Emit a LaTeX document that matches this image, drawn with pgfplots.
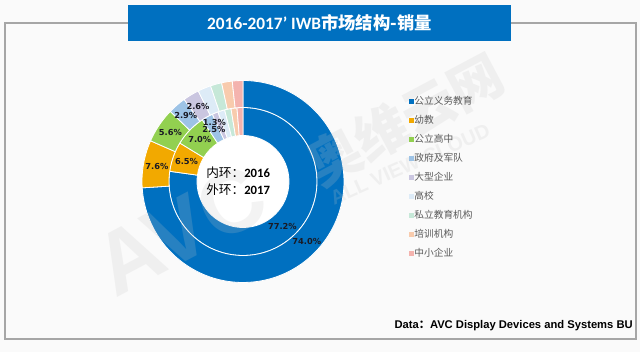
\documentclass[border=0pt]{standalone}
\usepackage{pgfplots}
\pgfplotsset{compat=1.18}
\usepackage{pgfplotstable}
\usepackage{fontspec}
\setmainfont{Noto Sans CJK SC}
\newfontfamily\cjk{Noto Sans CJK SC}
\newfontfamily\carl{Carlito}
\newfontfamily\dvs{DejaVu Sans}
\newfontfamily\lib{Liberation Sans}

\definecolor{bgc}{HTML}{FAFAFA}
\definecolor{framec}{HTML}{A6A6A6}
\definecolor{titlec}{HTML}{0070C0}
\definecolor{cA}{HTML}{0070C0}
\definecolor{cB}{HTML}{F2A900}
\definecolor{cC}{HTML}{92D050}
\definecolor{cD}{HTML}{9DC3E6}
\definecolor{cE}{HTML}{CAC6E0}
\definecolor{cF}{HTML}{DDEBF7}
\definecolor{cG}{HTML}{C6E8D8}
\definecolor{cH}{HTML}{F8CBAD}
\definecolor{cI}{HTML}{F4B3AE}
\definecolor{labelc}{HTML}{1A1A24}
\definecolor{legtext}{HTML}{595959}
\definecolor{wmc}{HTML}{C5C5C5}

% name, 2016 share (inner ring), 2017 share (outer ring), colour
\pgfplotstableread{
name v16 v17 col
公立义务教育 77.2 74.0 cA
幼教 6.5 7.6 cB
公立高中 7.0 5.6 cC
政府及军队 2.5 2.9 cD
大型企业 1.3 2.6 cE
高校 1.5 2.1 cF
私立教育机构 1.4 1.8 cG
培训机构 1.3 1.7 cH
中小企业 1.3 1.7 cI
}\donut

\begin{document}
\begin{tikzpicture}
\begin{axis}[
  hide axis, scale only axis, width=480pt, height=264pt,
  xmin=0, xmax=640, ymin=0, ymax=352, clip=false,
  legend image code/.code={\fill[#1, draw=none] (0pt,-1.9pt) rectangle (3.8pt,1.9pt);},
  legend style={at={(0.639,0.727)}, anchor=north west, draw=none, fill=none,
    inner sep=0pt, row sep=6.75pt,
    font=\fontsize{7.3}{8}\selectfont\color{legtext},
    nodes={text height=6pt, text depth=1.5pt, inner sep=0pt, outer sep=0pt},
    /tikz/every even column/.append style={column sep=3pt}},
  legend cell align=left,
]
\pgfplotsextra{%
  % background, frame, title
  \fill[bgc] (axis cs:0,0) rectangle (axis cs:640,352);
  \draw[framec, line width=1.1pt] (axis cs:5,329) rectangle (axis cs:636,13);
  \fill[titlec] (axis cs:128,347) rectangle (axis cs:511,311);
  \node[text=white, font=\fontsize{13}{14}\selectfont\bfseries] at (axis cs:319.5,329)
    {{\carl 2016-2017’ IWB}{\cjk 市场结构-销量}};
  % donut sectors
  \gdef\cumA{0}\gdef\cumB{0}%
  \foreach \i in {0,...,8}{%
    \pgfplotstablegetelem{\i}{v16}\of\donut \let\va\pgfplotsretval
    \pgfplotstablegetelem{\i}{v17}\of\donut \let\vb\pgfplotsretval
    \pgfplotstablegetelem{\i}{col}\of\donut \let\cc\pgfplotsretval
    \pgfmathsetmacro\aS{90-3.6*\cumA}%
    \pgfmathsetmacro\aE{90-3.6*(\cumA+\va)}%
    \pgfmathsetmacro\bS{90-3.6*\cumB}%
    \pgfmathsetmacro\bE{90-3.6*(\cumB+\vb)}%
    \fill[fill=\cc, draw=white, line width=0.6pt, shift={(axis cs:243,170.5)}]
      (\aS:34.5pt) arc[start angle=\aS, end angle=\aE, radius=34.5pt]
      -- (\aE:55.5pt) arc[start angle=\aE, end angle=\aS, radius=55.5pt] -- cycle;
    \fill[fill=\cc, draw=white, line width=0.6pt, shift={(axis cs:243,170.5)}]
      (\bS:55.5pt) arc[start angle=\bS, end angle=\bE, radius=55.5pt]
      -- (\bE:75.75pt) arc[start angle=\bE, end angle=\bS, radius=75.75pt] -- cycle;
    \pgfmathsetmacro\tmpA{\cumA+\va}\xdef\cumA{\tmpA}%
    \pgfmathsetmacro\tmpB{\cumB+\vb}\xdef\cumB{\tmpB}%
  }%
  \fill[white] (axis cs:243,170.5) circle[radius=34.2pt];
  % watermark
  \begin{scope}[opacity=0.2]
    \node[text=wmc, rotate=28, font=\lib\bfseries\fontsize{66}{66}\selectfont] at (axis cs:180,122) {AVC};
    \node[text=wmc, rotate=28, font=\cjk\bfseries\fontsize{40}{40}\selectfont] at (axis cs:405,232) {奥维云网};
    \node[text=wmc, rotate=24, font=\lib\bfseries\fontsize{15}{15}\selectfont] at (axis cs:410,188) {ALL VIEW CLOUD};
  \end{scope}
  % labels
  \gdef\cumA{0}\gdef\cumB{0}%
  \foreach \i in {0,...,4}{%
    \pgfplotstablegetelem{\i}{v16}\of\donut \let\va\pgfplotsretval
    \pgfplotstablegetelem{\i}{v17}\of\donut \let\vb\pgfplotsretval
    \pgfmathsetmacro\aM{90-3.6*(\cumA+\va/2)}%
    \pgfmathsetmacro\bM{90-3.6*(\cumB+\vb/2)}%
    \ifnum\i=4 \def\xs{-4.5pt}\def\ys{2.5pt}\else\def\xs{0pt}\def\ys{0pt}\fi
    \node[text=labelc, font=\dvs\bfseries\fontsize{6.2}{7}\selectfont, inner sep=0pt]
      at ([shift={(\aM:45pt)}, xshift=\xs, yshift=\ys]axis cs:243,170.5)
      {\pgfmathprintnumber[assume math mode=true,fixed,fixed zerofill,precision=1]{\va}\%};
    \node[text=labelc, font=\dvs\bfseries\fontsize{6.2}{7}\selectfont, inner sep=0pt]
      at ([shift={(\bM:65.6pt)}]axis cs:243,170.5)
      {\pgfmathprintnumber[assume math mode=true,fixed,fixed zerofill,precision=1]{\vb}\%};
    \pgfmathsetmacro\tmpA{\cumA+\va}\xdef\cumA{\tmpA}%
    \pgfmathsetmacro\tmpB{\cumB+\vb}\xdef\cumB{\tmpB}%
  }%
  % centre text
  \node[anchor=west, inner sep=0pt, font=\fontsize{9.5}{11}\selectfont] at (axis cs:206,179)
    {{\cjk 内环：}{\carl\bfseries 2016}};
  \node[anchor=west, inner sep=0pt, font=\fontsize{9.5}{11}\selectfont] at (axis cs:206,162)
    {{\cjk 外环：}{\carl\bfseries 2017}};
  % source
  \node[anchor=east, inner sep=0pt, font=\lib\bfseries\fontsize{8.4}{10}\selectfont] at (axis cs:633,26)
    {Data{\cjk\bfseries ：}AVC Display Devices and Systems BU};
}
\addlegendimage{fill=cA}
\addlegendimage{fill=cB}
\addlegendimage{fill=cC}
\addlegendimage{fill=cD}
\addlegendimage{fill=cE}
\addlegendimage{fill=cF}
\addlegendimage{fill=cG}
\addlegendimage{fill=cH}
\addlegendimage{fill=cI}
\legend{公立义务教育,幼教,公立高中,政府及军队,大型企业,高校,私立教育机构,培训机构,中小企业}
\end{axis}
\end{tikzpicture}
\end{document}
